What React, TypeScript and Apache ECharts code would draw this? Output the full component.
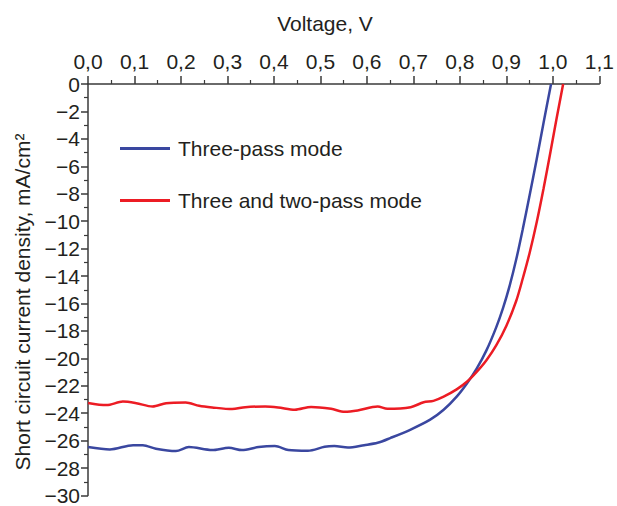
import React, { useEffect, useRef } from 'react';
import * as echarts from 'echarts';

// Voltage (V) and current density (mA/cm²)
const threePassX = [0, 0.047, 0.097, 0.118, 0.146, 0.189, 0.217, 0.267, 0.303, 0.331, 0.367, 0.402, 0.431, 0.473, 0.509, 0.53, 0.559, 0.594, 0.623, 0.651, 0.694, 0.736, 0.765, 0.793, 0.815, 0.836, 0.857, 0.878, 0.893, 0.907, 0.921, 0.935, 0.95, 0.965, 0.98, 0.996];
const threePassY = [-26.47, -26.64, -26.33, -26.33, -26.59, -26.76, -26.47, -26.69, -26.52, -26.69, -26.47, -26.4, -26.69, -26.74, -26.45, -26.4, -26.5, -26.33, -26.16, -25.8, -25.19, -24.47, -23.75, -22.79, -21.83, -20.75, -19.42, -17.74, -16.3, -14.7, -12.8, -10.6, -8.1, -5.5, -2.8, 0];

const twoPassX = [0, 0.04, 0.075, 0.104, 0.139, 0.168, 0.21, 0.239, 0.267, 0.31, 0.338, 0.381, 0.409, 0.445, 0.48, 0.523, 0.552, 0.58, 0.623, 0.644, 0.694, 0.722, 0.743, 0.765, 0.793, 0.815, 0.836, 0.857, 0.878, 0.9, 0.921, 0.935, 0.95, 0.965, 0.98, 0.995, 1.008, 1.022];
const twoPassY = [-23.25, -23.41, -23.15, -23.27, -23.51, -23.27, -23.22, -23.46, -23.58, -23.7, -23.56, -23.51, -23.58, -23.75, -23.54, -23.68, -23.9, -23.8, -23.51, -23.68, -23.56, -23.2, -23.1, -22.79, -22.26, -21.71, -20.99, -20.14, -19.06, -17.62, -15.82, -14.2, -12.3, -10.1, -7.6, -4.9, -2.5, 0];

const seriesNames = ['Three-pass mode', 'Three and two-pass mode'];
const seriesColors = ['#3a47a0', '#ec1c24'];

const xTitle = 'Voltage, V';
const yTitle = 'Short circuit current density, mA/cm\u00B2';

const FONT = '"Liberation Sans", Arial, Helvetica, sans-serif';
const FS = 21;
const TEXT = '#231f20';
const AXIS = '#3a3a3a';

function pairs(xs: number[], ys: number[]) {
  return xs.map((x, i) => [x, ys[i]]);
}

export default function App() {
  const ref = useRef<HTMLDivElement>(null);
  useEffect(() => {
    document.body.style.margin = '0';
    if (!ref.current) return;
    const chart = echarts.init(ref.current, undefined, { renderer: 'svg' });
    chart.setOption({
      animation: false,
      backgroundColor: '#ffffff',
      textStyle: { fontFamily: FONT },
      grid: { left: 88, right: 12, top: 84, bottom: 6, containLabel: false },
      legend: {
        orient: 'vertical',
        left: 115,
        top: 133,
        itemGap: 31,
        itemWidth: 50,
        itemHeight: 3,
        data: seriesNames.map((n) => ({ name: n, icon: 'rect' })),
        textStyle: { fontSize: FS, color: TEXT, fontFamily: FONT, padding: [0, 0, 0, 3] },
      },
      xAxis: {
        type: 'value',
        position: 'top',
        min: 0,
        max: 1.1,
        interval: 0.1,
        axisLine: { show: true, onZero: false, lineStyle: { color: AXIS, width: 1.5 } },
        axisTick: { show: true, length: 8, lineStyle: { color: AXIS, width: 1.5 } },
        minorTick: { show: true, splitNumber: 2, length: 4, lineStyle: { color: AXIS, width: 1.2 } },
        splitLine: { show: false },
        axisLabel: {
          fontSize: FS,
          color: TEXT,
          margin: 12,
          fontFamily: FONT,
          formatter: (v: number) => v.toFixed(1).replace('.', ','),
        },
      },
      yAxis: {
        type: 'value',
        min: -30,
        max: 0,
        interval: 2,
        axisLine: { show: true, onZero: false, lineStyle: { color: AXIS, width: 1.5 } },
        axisTick: { show: true, length: 7, lineStyle: { color: AXIS, width: 1.5 } },
        minorTick: { show: true, splitNumber: 2, length: 4, lineStyle: { color: AXIS, width: 1.2 } },
        splitLine: { show: false },
        axisLabel: {
          fontSize: FS,
          color: TEXT,
          margin: 8,
          fontFamily: FONT,
          formatter: (v: number) => String(Math.round(v)).replace('-', '\u2212'),
        },
      },
      series: [
        {
          name: seriesNames[0],
          type: 'line',
          data: pairs(threePassX, threePassY),
          showSymbol: false,
          symbol: 'none',
          smooth: 0.3,
          color: seriesColors[0],
          lineStyle: { color: seriesColors[0], width: 2.5 },
        },
        {
          name: seriesNames[1],
          type: 'line',
          data: pairs(twoPassX, twoPassY),
          showSymbol: false,
          symbol: 'none',
          smooth: 0.3,
          color: seriesColors[1],
          lineStyle: { color: seriesColors[1], width: 2.5 },
        },
      ],
      graphic: [
        {
          type: 'text',
          x: 325,
          y: 23,
          style: { text: xTitle, fontSize: FS, fill: TEXT, fontFamily: FONT, textAlign: 'center', textVerticalAlign: 'middle' },
        },
        {
          type: 'text',
          x: 22,
          y: 302,
          rotation: Math.PI / 2,
          style: { text: yTitle, fontSize: FS, fill: TEXT, fontFamily: FONT, textAlign: 'center', textVerticalAlign: 'middle' },
        },
      ],
    });
    return () => chart.dispose();
  }, []);
  return <div ref={ref} style={{ width: 617, height: 506 }} />;
}
